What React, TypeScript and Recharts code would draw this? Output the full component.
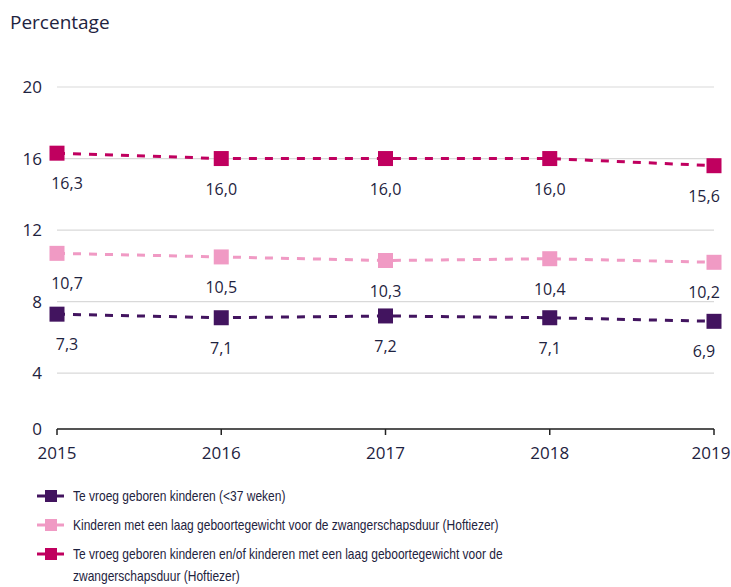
import { LineChart, Line, XAxis, YAxis, CartesianGrid, LabelList } from "recharts";

const jaren = ["2015", "2016", "2017", "2018", "2019"];
const teVroeg = [7.3, 7.1, 7.2, 7.1, 6.9];
const laagGewicht = [10.7, 10.5, 10.3, 10.4, 10.2];
const vroegOfLaag = [16.3, 16.0, 16.0, 16.0, 15.6];
const yTicks = [0, 4, 8, 12, 16, 20];

// the bottom axis line sits a bit above zero in the original
const AXIS_FLOOR = 0.88;

const series = [
  { key: "teVroeg", name: "Te vroeg geboren kinderen (<37 weken)", color: "#42145f", values: teVroeg },
  {
    key: "laagGewicht",
    name: "Kinderen met een laag geboortegewicht voor de zwangerschapsduur (Hoftiezer)",
    color: "#f09ac4",
    values: laagGewicht,
  },
  {
    key: "vroegOfLaag",
    name: "Te vroeg geboren kinderen en/of kinderen met een laag geboortegewicht voor de zwangerschapsduur (Hoftiezer)",
    color: "#c0005f",
    values: vroegOfLaag,
  },
];

const data = jaren.map((jaar, i) => {
  const row: Record<string, string | number> = { jaar };
  series.forEach((s) => (row[s.key] = s.values[i]));
  return row;
});

const TEXT = "#1e2340";
const FONT = "'Open Sans', 'Liberation Sans', sans-serif";

const fmt = (v: number) => v.toFixed(1).replace(".", ",");

const SquareDot = (color: string) => (props: any) => {
  const { cx, cy, index } = props;
  if (cx == null || cy == null) return <g key={index} />;
  return <rect key={index} x={cx - 7.5} y={cy - 7.5} width={15} height={15} fill={color} />;
};

const ValueLabel = (props: any) => {
  const { x, y, value, index } = props;
  const dx = index === 0 ? 10 : index === jaren.length - 1 ? -10 : 0;
  return (
    <text x={x + dx} y={y + 30} textAnchor="middle" dominantBaseline="central" fill={TEXT} fontSize={16} fontFamily={FONT}>
      {fmt(value)}
    </text>
  );
};

const YearTick = (props: any) => {
  const { x, y, payload, index } = props;
  const dx = index === jaren.length - 1 ? -3 : 0;
  return (
    <text x={x + dx} y={y + 8} textAnchor="middle" dominantBaseline="hanging" fill={TEXT} fontSize={17} fontFamily={FONT}>
      {payload.value}
    </text>
  );
};

const App = () => {
  return (
    <div style={{ position: "absolute", left: 0, top: 0, width: 731, height: 587, background: "#fff", fontFamily: FONT, overflow: "hidden" }}>
      <div style={{ position: "absolute", left: 10, top: 9, fontSize: 19, color: TEXT }}>Percentage</div>
      <LineChart width={731} height={587} data={data} margin={{ top: 87, right: 17, bottom: 128, left: 0 }}>
        <CartesianGrid vertical={false} stroke="#d9d9d9" strokeWidth={1.2} />
        <XAxis
          dataKey="jaar"
          height={30}
          padding={{ left: 0, right: 0 }}
          stroke="#222"
          strokeWidth={1.5}
          tickSize={6}
          tick={YearTick}
          interval={0}
        />
        <YAxis
          type="number"
          domain={[AXIS_FLOOR, 20]}
          ticks={yTicks.map((t) => (t === 0 ? AXIS_FLOOR : t))}
          tickFormatter={(v: number) => (v === AXIS_FLOOR ? "0" : String(v))}
          axisLine={false}
          tickLine={false}
          tickSize={0}
          tickMargin={15}
          width={57}
          tick={{ fill: TEXT, fontSize: 17, fontFamily: FONT }}
        />
        {series.map((s) => (
          <Line
            key={s.key}
            dataKey={s.key}
            name={s.name}
            stroke={s.color}
            strokeWidth={3}
            strokeDasharray="8 8"
            dot={SquareDot(s.color)}
            activeDot={false}
            isAnimationActive={false}
          >
            <LabelList dataKey={s.key} content={ValueLabel} />
          </Line>
        ))}
      </LineChart>
      <div style={{ position: "absolute", left: 37, top: 485, fontFamily: "'Liberation Sans', sans-serif", fontSize: 15, color: TEXT }}>
        {series.map((s) => (
          <div key={s.key} style={{ display: "flex", alignItems: "flex-start", marginBottom: 7, lineHeight: "22px" }}>
            <svg width={36} height={22} style={{ flex: "none" }}>
              <line x1={0} y1={11} x2={27} y2={11} stroke={s.color} strokeWidth={3} />
              <rect x={8} y={5} width={12} height={12} fill={s.color} />
            </svg>
            <span style={{ display: "block", width: 600, transform: "scaleX(0.8)", transformOrigin: "left top" }}>{s.name}</span>
          </div>
        ))}
      </div>
    </div>
  );
};

export default App;
